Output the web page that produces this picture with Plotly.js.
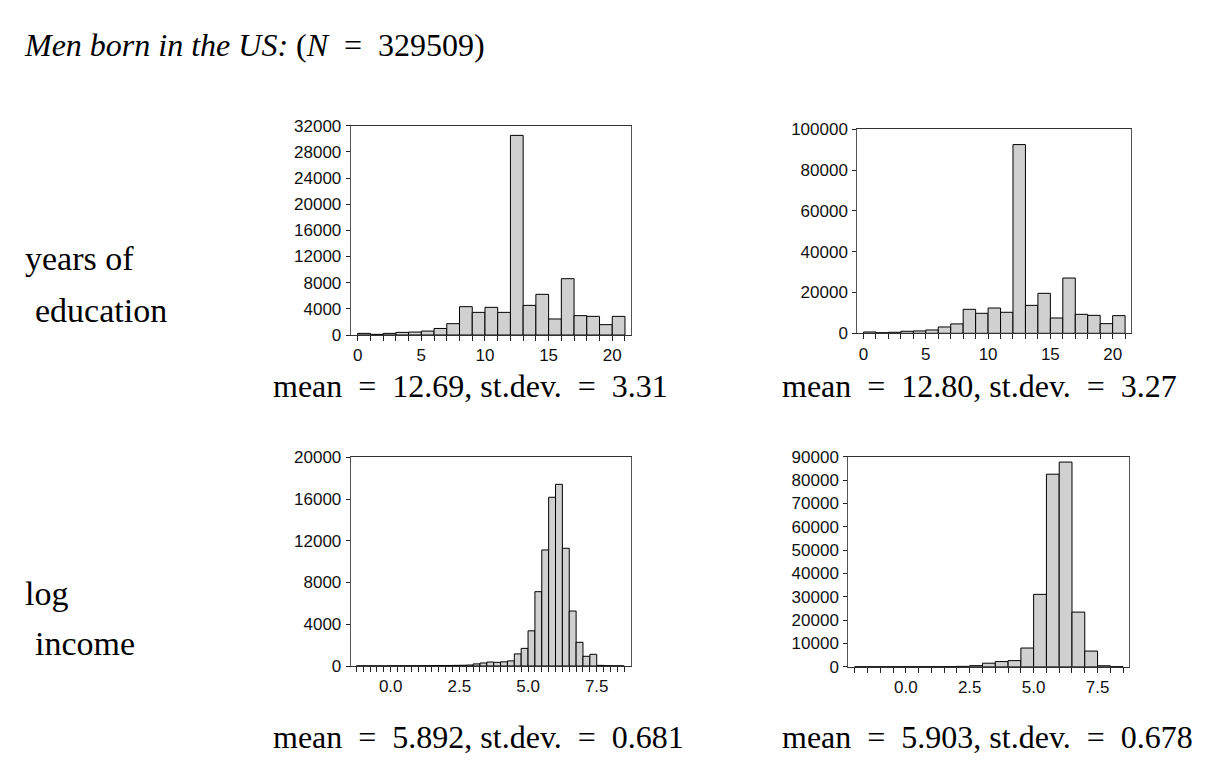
<!DOCTYPE html>
<html>
<head>
<meta charset="utf-8">
<script src="https://cdn.plot.ly/plotly-3.0.1.min.js"></script>
<style>html,body{margin:0;padding:0;background:#fff;}#chart{width:1210px;height:762px;}</style>
</head>
<body>
<div id="chart"></div>
<script>
// ---- Data ----
// Years of education: bins of width 1 starting at these values
const eduBins = [0,1,2,3,4,5,6,7,8,9,10,11,12,13,14,15,16,17,18,19,20];
const eduCountsA = [250,100,250,400,450,600,1000,1730,4330,3460,4230,3460,30520,4530,6220,2450,8610,2960,2850,1580,2850];
const eduCountsB = [650,300,500,1000,1150,1630,3100,4600,11760,9800,12400,10300,92500,13700,19600,7500,27100,9300,8800,4740,8660];

// Log income, left panel: bins of width 0.25
const incBinsA = [-1.25,-1.0,-0.75,-0.5,-0.25,0.0,0.25,0.5,0.75,1.0,1.25,1.5,1.75,2.0,2.25,2.5,2.75,3.0,3.25,3.5,3.75,4.0,4.25,4.5,4.75,5.0,5.25,5.5,5.75,6.0,6.25,6.5,6.75,7.0,7.25,7.5,7.75,8.0,8.25];
const incCountsA = [10,10,10,10,10,20,15,20,20,25,30,40,40,50,60,70,90,200,290,380,350,400,490,1160,1690,3370,7120,11120,16170,17410,11280,5270,2270,930,1120,60,30,15,10];

// Log income, right panel: bins of width 0.5
const incBinsB = [-2.0,-1.5,-1.0,-0.5,0.0,0.5,1.0,1.5,2.0,2.5,3.0,3.5,4.0,4.5,5.0,5.5,6.0,6.5,7.0,7.5,8.0];
const incCountsB = [20,20,20,30,30,40,50,80,150,450,1500,2200,2600,8000,31000,82500,87700,23400,6700,400,60];

const statsText = [
  "mean&nbsp; =&nbsp; 12.69, st.dev.&nbsp; =&nbsp; 3.31",
  "mean&nbsp; =&nbsp; 12.80, st.dev.&nbsp; =&nbsp; 3.27",
  "mean&nbsp; =&nbsp; 5.892, st.dev.&nbsp; =&nbsp; 0.681",
  "mean&nbsp; =&nbsp; 5.903, st.dev.&nbsp; =&nbsp; 0.678"
];
const titleText = "<i>Men born in the US:</i> (<i>N</i>&nbsp; =&nbsp; 329509)";
const rowLabels = ["years of", "education", "log", "income"];

// ---- Geometry helpers (pixel -> paper) ----
const W = 1210, H = 762;
const px = v => v / W;
const py = v => 1 - v / H;

const barStyle = {color: '#d0d0d0', line: {color: '#000', width: 1}};

function bar(x, y, w, xa, ya) {
  return {type: 'bar', x: x, y: y, width: w, offset: 0, marker: barStyle,
          xaxis: xa, yaxis: ya, hoverinfo: 'x+y', showlegend: false};
}

const data = [
  bar(eduBins, eduCountsA, 1, 'x', 'y'),
  bar(eduBins, eduCountsB, 1, 'x2', 'y2'),
  bar(incBinsA, incCountsA, 0.25, 'x3', 'y3'),
  bar(incBinsB, incCountsB, 0.5, 'x4', 'y4')
];

const tickFont = {family: 'Liberation Sans, Arial, sans-serif', size: 17, color: '#111'};

function xax(domain, range, dtick, minor, fmt, anchor) {
  return {domain: domain, range: range, dtick: dtick, tick0: 0, tickformat: fmt,
    ticks: 'outside', ticklen: 5, tickcolor: '#222', showline: true, linecolor: '#333',
    linewidth: 1, mirror: true, showgrid: false, zeroline: false, anchor: anchor,
    tickfont: tickFont, minor: {dtick: minor, tick0: 0, ticks: 'outside', ticklen: 5, tickcolor: '#222', showgrid: false}};
}
function yax(domain, range, dtick, anchor) {
  return {domain: domain, range: range, dtick: dtick, tick0: 0, tickformat: 'd', ticks: 'outside', ticklen: 4,
    tickcolor: '#222', showline: true, linecolor: '#555', linewidth: 1, mirror: true,
    showgrid: false, zeroline: false, anchor: anchor, tickfont: tickFont, ticklabelstandoff: 1};
}

const serif = 'Liberation Serif, Times New Roman, serif';
function ann(text, x, y, size) {
  return {text: text, x: px(x), y: py(y), xref: 'paper', yref: 'paper', xanchor: 'left', yanchor: 'middle',
          showarrow: false, font: {family: serif, size: size, color: '#000'}};
}

const layout = {
  width: W, height: H, margin: {l: 0, r: 0, t: 0, b: 0},
  paper_bgcolor: '#fff', plot_bgcolor: '#fff', bargap: 0, showlegend: false,
  xaxis:  xax([px(350.7), px(630.7)], [-0.55, 21.45], 5, 1, '', 'y'),
  yaxis:  yax([py(335), py(125.7)], [0, 32000], 4000, 'x'),
  xaxis2: xax([px(857.3), px(1130.7)], [-0.5, 21.45], 5, 1, '', 'y2'),
  yaxis2: yax([py(333.3), py(129.3)], [0, 100000], 20000, 'x2'),
  xaxis3: xax([px(350.7), px(630.7)], [-1.456, 8.737], 2.5, 0.25, '.1f', 'y3'),
  yaxis3: yax([py(666), py(457.3)], [0, 20000], 4000, 'x3'),
  xaxis4: xax([px(848.3), px(1129)], [-2.25, 8.73], 2.5, 0.5, '.1f', 'y4'),
  yaxis4: yax([py(666.7), py(456.7)], [0, 90000], 10000, 'x4'),
  annotations: [
    ann(titleText, 22, 45, 32),
    ann(rowLabels[0], 23, 258, 34),
    ann(rowLabels[1], 33, 310, 34),
    ann(rowLabels[2], 23, 593, 34),
    ann(rowLabels[3], 33, 643, 34),
    ann(statsText[0], 271, 386, 32),
    ann(statsText[1], 780, 386, 32),
    ann(statsText[2], 271, 737, 32),
    ann(statsText[3], 780, 737, 32)
  ]
};

Plotly.newPlot('chart', data, layout, {displayModeBar: false, staticPlot: true});
</script>
</body>
</html>
